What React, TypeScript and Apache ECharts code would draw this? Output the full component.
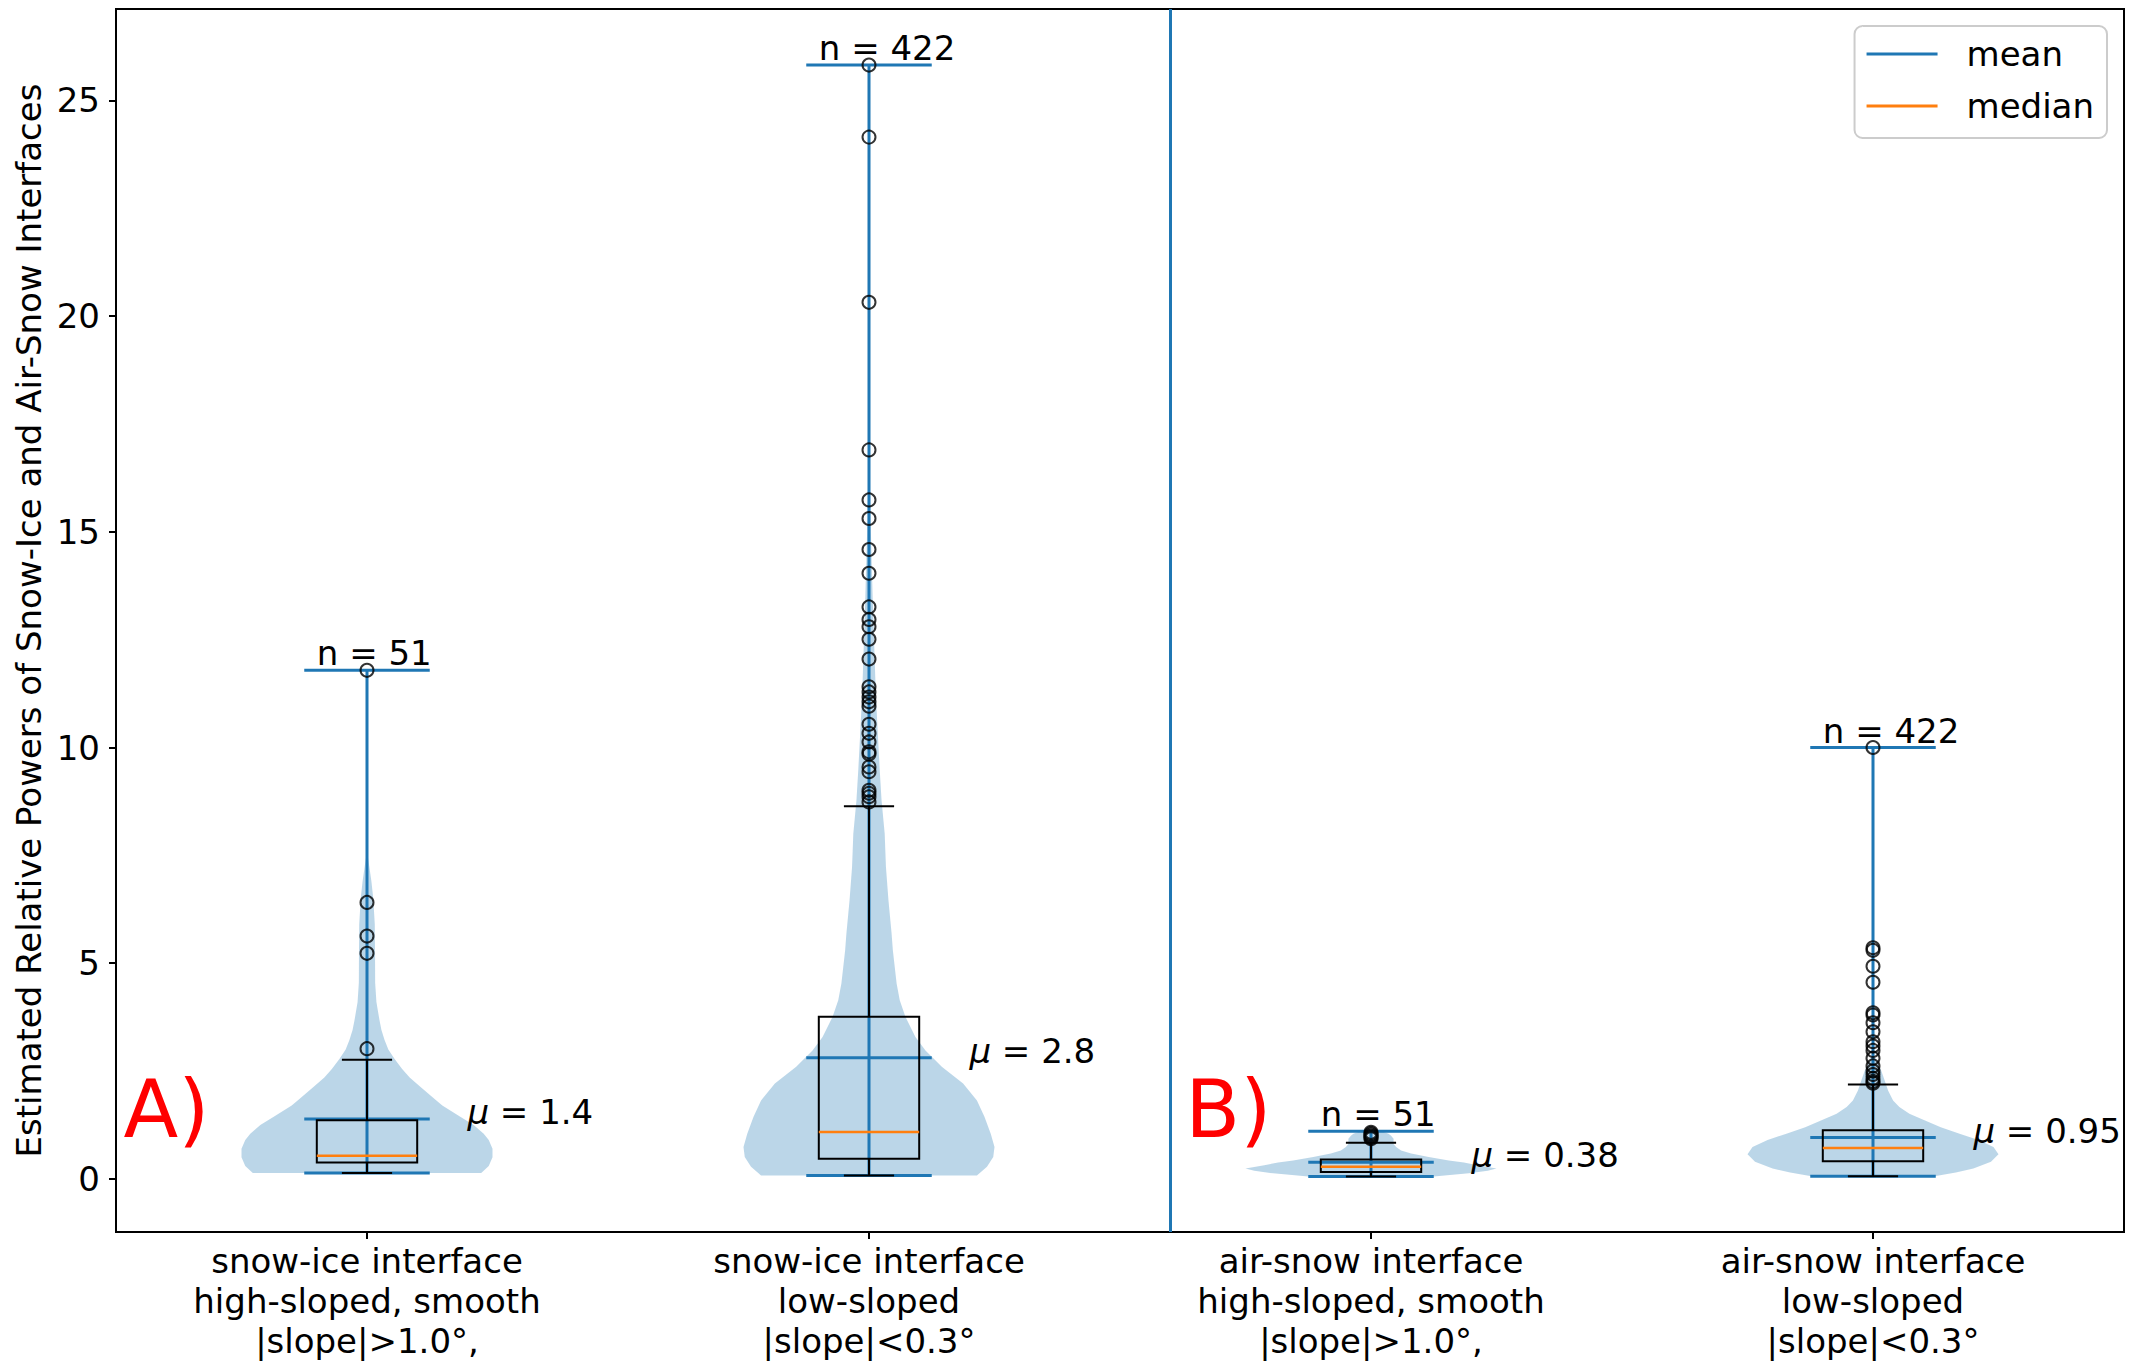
import React, { useEffect, useRef } from 'react';
import * as echarts from 'echarts';

const FONT = 'DejaVu Sans';

const categories = [
  'snow-ice interface\nhigh-sloped, smooth\n|slope|>1.0°,',
  'snow-ice interface\nlow-sloped\n|slope|<0.3°',
  'air-snow interface\nhigh-sloped, smooth\n|slope|>1.0°,',
  'air-snow interface\nlow-sloped\n|slope|<0.3°',
];
const positions = [1, 2, 3, 4];
const yTicks = [0, 5, 10, 15, 20, 25];

const mins = [0.14, 0.08, 0.055, 0.063];
const maxs = [11.79, 25.82, 1.105, 10.0];
const means = [1.39, 2.81, 0.387, 0.96];
const q1s = [0.38, 0.47, 0.16, 0.41];
const medians = [0.54, 1.09, 0.28, 0.72];
const q3s = [1.36, 3.76, 0.45, 1.13];
const whiskerLows = [0.14, 0.08, 0.055, 0.063];
const whiskerHighs = [2.76, 8.64, 0.84, 2.19];
const counts = [51, 422, 51, 422];
const meanLabels = ['1.4', '2.8', '0.38', '0.95'];

const fliers1 = [11.79, 6.41, 5.63, 5.23, 3.02];
const fliers2 = [25.82, 24.15, 20.32, 16.9, 15.74, 15.31, 14.59, 14.04, 13.26, 12.97, 12.8, 12.51, 12.05,
  11.41, 11.29, 11.17, 11.06, 10.96, 10.54, 10.33, 10.13, 9.9, 9.85, 9.55, 9.44, 9.01, 8.94, 8.86, 8.74];
const fliers3 = [1.08, 1.05, 1.02, 0.99, 0.96, 0.93];
const fliers4 = [10.0, 5.36, 5.3, 4.93, 4.56, 3.85, 3.8, 3.62, 3.41, 3.18, 3.08, 2.98, 2.8, 2.62, 2.5, 2.42,
  2.33, 2.26, 2.22];
const fliers = [fliers1, fliers2, fliers3, fliers4];

// violin outline: [value, relative half-width (1 = widest)]
const violin1 = [[0.14, 0.91], [0.3, 0.97], [0.5, 1.0], [0.7, 1.0], [0.9, 0.97], [1.05, 0.93], [1.25, 0.85],
  [1.45, 0.74], [1.7, 0.6], [1.9, 0.52], [2.15, 0.42], [2.35, 0.34], [2.55, 0.28], [2.78, 0.22], [3.0, 0.17],
  [3.22, 0.14], [3.45, 0.115], [3.67, 0.1], [4.1, 0.075], [4.55, 0.065], [5.2, 0.064], [5.9, 0.062],
  [6.5, 0.05], [6.9, 0.035], [7.25, 0.018], [7.6, 0.0]];
const violin2 = [[0.08, 0.86], [0.28, 0.94], [0.51, 0.99], [0.74, 1.0], [1.05, 0.97], [1.44, 0.92], [1.82, 0.86],
  [2.21, 0.75], [2.6, 0.58], [2.98, 0.45], [3.29, 0.37], [3.76, 0.29], [4.14, 0.245], [4.53, 0.22],
  [5.3, 0.19], [5.69, 0.18], [6.46, 0.155], [7.23, 0.135], [8.0, 0.125], [8.78, 0.1], [9.5, 0.085],
  [10.33, 0.07], [11.2, 0.055], [12.05, 0.045], [13.4, 0.03], [15.0, 0.015], [16.5, 0.004], [17.5, 0.0]];
const violin3 = [[0.055, 0.5], [0.13, 0.78], [0.19, 0.93], [0.24, 1.0], [0.32, 0.85], [0.38, 0.74],
  [0.43, 0.62], [0.51, 0.46], [0.59, 0.32], [0.66, 0.24], [0.74, 0.2], [0.81, 0.18], [0.93, 0.18],
  [1.0, 0.16], [1.05, 0.14], [1.105, 0.085]];
const violin4 = [[0.063, 0.49], [0.15, 0.66], [0.24, 0.8], [0.4, 0.94], [0.57, 1.0], [0.74, 0.96], [0.9, 0.84],
  [1.05, 0.69], [1.2, 0.54], [1.36, 0.41], [1.51, 0.29], [1.67, 0.21], [1.82, 0.16], [2.05, 0.12],
  [2.28, 0.093], [2.51, 0.066], [2.67, 0.04], [2.82, 0.013], [2.9, 0.0]];
const violins = [violin1, violin2, violin3, violin4];

const separatorX = 2.6;
const panelLabels = ['A)', 'B)'];
const panelLabelX = [0.515, 2.63];
const panelLabelY = [0.95, 0.96];

const BLUE = '#1f77b4';
const ORANGE = '#ff7f0e';
const VIOLIN_HALF = 0.25;
const EXTREMA_HALF = 0.125;
const BOX_HALF = 0.1;
const CAP_HALF = 0.05;

function hline(api: any, x0: number, x1: number, y: number, style: any) {
  const a = api.coord([x0, y]);
  const b = api.coord([x1, y]);
  return { type: 'line', shape: { x1: a[0], y1: a[1], x2: b[0], y2: b[1] }, style };
}
function vline(api: any, x: number, y0: number, y1: number, style: any) {
  const a = api.coord([x, y0]);
  const b = api.coord([x, y1]);
  return { type: 'line', shape: { x1: a[0], y1: a[1], x2: b[0], y2: b[1] }, style };
}

export default function App() {
  const ref = useRef<HTMLDivElement>(null);
  useEffect(() => {
    if (!ref.current) return;
    const chart = echarts.init(ref.current, null, { renderer: 'svg' });
    const baseData = positions.map((p, i) => [p, means[i]]);
    const flierData: number[][] = [];
    fliers.forEach((arr, i) => arr.forEach((v) => flierData.push([positions[i], v])));

    const blueStyle = { stroke: BLUE, lineWidth: 3, fill: null };
    const blackStyle = { stroke: '#000', lineWidth: 2, fill: null };

    const option: any = {
      animation: false,
      backgroundColor: '#fff',
      textStyle: { fontFamily: FONT },
      grid: { left: 116, right: 12, top: 9, bottom: 133, show: true, borderColor: '#000', borderWidth: 2, backgroundColor: 'transparent' },
      legend: {
        orient: 'vertical', right: 29, top: 26,
        data: [
          { name: 'mean', icon: 'rect', itemStyle: { color: BLUE } },
          { name: 'median', icon: 'rect', itemStyle: { color: ORANGE } },
        ],
        itemWidth: 71, itemHeight: 3, itemGap: 12,
        textStyle: { fontSize: 34, fontFamily: FONT, color: '#000', lineHeight: 40, padding: [0, 0, 0, 24] },
        padding: [8, 13, 12, 12],
        backgroundColor: 'rgba(255,255,255,0.8)', borderColor: '#cccccc', borderWidth: 2, borderRadius: 8,
        selectedMode: false,
      },
      xAxis: {
        type: 'value', min: 0.5, max: 4.5,
        axisLine: { show: true, onZero: false, lineStyle: { color: '#000', width: 2 } },
        splitLine: { show: false },
        axisTick: { show: true, length: 7, lineStyle: { color: '#000', width: 2 }, customValues: positions },
        axisLabel: {
          customValues: positions,
          formatter: (v: number) => categories[Math.round(v) - 1] || '',
          fontSize: 34, lineHeight: 40, color: '#000', margin: 9, fontFamily: FONT,
        },
      },
      yAxis: {
        type: 'value', min: -1.23, max: 27.12,
        axisLine: { show: true, onZero: false, lineStyle: { color: '#000', width: 2 } },
        axisTick: { show: true, length: 7, lineStyle: { color: '#000', width: 2 }, customValues: yTicks },
        axisLabel: { customValues: yTicks, fontSize: 34, color: '#000', margin: 16, fontFamily: FONT },
        splitLine: { show: false },
        name: 'Estimated Relative Powers of Snow-Ice and Air-Snow Interfaces',
        nameLocation: 'middle', nameGap: 70, nameRotate: 90,
        nameTextStyle: { fontSize: 34, color: '#000', fontFamily: FONT },
      },
      series: [
        {
          name: 'violin', type: 'custom', data: baseData, silent: true,
          renderItem: (params: any, api: any) => {
            const i = params.dataIndex;
            const prof = violins[i];
            const pos = positions[i];
            const right = prof.map(([v, f]) => api.coord([pos + f * VIOLIN_HALF, v]));
            const left = prof.slice().reverse().map(([v, f]) => api.coord([pos - f * VIOLIN_HALF, v]));
            return { type: 'polygon', shape: { points: right.concat(left) }, style: { fill: 'rgba(31,119,180,0.3)', stroke: null } };
          },
        },
        {
          name: 'mean', type: 'custom', data: baseData, silent: true, itemStyle: { color: BLUE },
          renderItem: (params: any, api: any) => {
            const i = params.dataIndex;
            const pos = positions[i];
            return {
              type: 'group',
              children: [
                vline(api, pos, mins[i], maxs[i], blueStyle),
                hline(api, pos - EXTREMA_HALF, pos + EXTREMA_HALF, mins[i], blueStyle),
                hline(api, pos - EXTREMA_HALF, pos + EXTREMA_HALF, maxs[i], blueStyle),
                hline(api, pos - EXTREMA_HALF, pos + EXTREMA_HALF, means[i], blueStyle),
              ],
            };
          },
        },
        {
          name: 'box', type: 'custom', data: baseData, silent: true,
          renderItem: (params: any, api: any) => {
            const i = params.dataIndex;
            const pos = positions[i];
            const tl = api.coord([pos - BOX_HALF, q3s[i]]);
            const br = api.coord([pos + BOX_HALF, q1s[i]]);
            return {
              type: 'group',
              children: [
                { type: 'rect', shape: { x: tl[0], y: tl[1], width: br[0] - tl[0], height: br[1] - tl[1] }, style: blackStyle },
                vline(api, pos, q3s[i], whiskerHighs[i], blackStyle),
                vline(api, pos, q1s[i], whiskerLows[i], blackStyle),
                hline(api, pos - CAP_HALF, pos + CAP_HALF, whiskerHighs[i], blackStyle),
                hline(api, pos - CAP_HALF, pos + CAP_HALF, whiskerLows[i], blackStyle),
              ],
            };
          },
        },
        {
          name: 'median', type: 'custom', data: baseData, silent: true, itemStyle: { color: ORANGE },
          renderItem: (params: any, api: any) => {
            const i = params.dataIndex;
            const pos = positions[i];
            return hline(api, pos - BOX_HALF, pos + BOX_HALF, medians[i], { stroke: ORANGE, lineWidth: 2.5 });
          },
        },
        {
          name: 'fliers', type: 'scatter', data: flierData, symbol: 'circle', symbolSize: 13, silent: true,
          itemStyle: { color: 'rgba(0,0,0,0)', borderColor: '#000', borderWidth: 2 },
          markLine: {
            silent: true, symbol: ['none', 'none'], label: { show: false },
            lineStyle: { color: BLUE, width: 3, type: 'solid' },
            emphasis: { disabled: true },
            data: [{ xAxis: separatorX }],
          },
        },
        {
          name: 'labels', type: 'custom', data: baseData, silent: true,
          renderItem: (params: any, api: any) => {
            const i = params.dataIndex;
            const pos = positions[i];
            const nPt = api.coord([pos - 0.1, maxs[i]]);
            const mPt = api.coord([pos + 0.2, means[i]]);
            return {
              type: 'group',
              children: [
                {
                  type: 'text', x: nPt[0], y: nPt[1],
                  style: { text: 'n = ' + counts[i], fontSize: 34, fontFamily: FONT, fill: '#000', align: 'left', verticalAlign: 'bottom' },
                },
                {
                  type: 'text', x: mPt[0], y: mPt[1] - 7,
                  style: {
                    text: '{i|μ} = ' + meanLabels[i], fontSize: 34, fontFamily: FONT, fill: '#000', align: 'left', verticalAlign: 'middle',
                    rich: { i: { fontStyle: 'italic', fontSize: 34, fontFamily: FONT, fill: '#000' } },
                  },
                },
              ],
            };
          },
        },
        {
          name: 'panels', type: 'custom', data: panelLabels.map((_, i) => [panelLabelX[i], panelLabelY[i]]), silent: true,
          renderItem: (params: any, api: any) => {
            const i = params.dataIndex;
            const pt = api.coord([panelLabelX[i], panelLabelY[i]]);
            return {
              type: 'text', x: pt[0], y: pt[1] - 28,
              style: { text: panelLabels[i], fontSize: 80, fontFamily: FONT, fill: '#ff0000', align: 'left', verticalAlign: 'middle' },
            };
          },
        },
      ],
    };
    chart.setOption(option);
    return () => chart.dispose();
  }, []);
  return <div ref={ref} style={{ position: 'absolute', left: 0, top: 0, width: 2136, height: 1365 }} />;
}
